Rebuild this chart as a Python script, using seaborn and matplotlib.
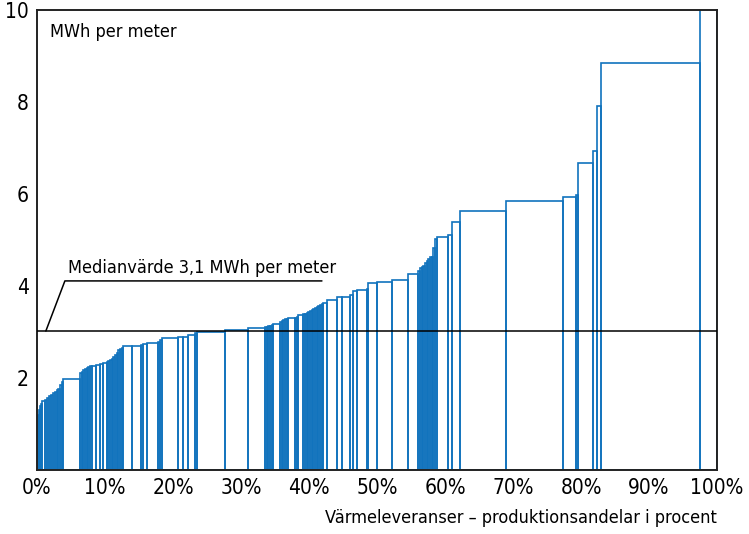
import numpy as np
import pandas as pd
import matplotlib
matplotlib.use("Agg")
from matplotlib import pyplot as plt
import seaborn as sns

# Production share (%) of each supplier, sorted by MWh per meter
shares = [0.15, 0.15, 0.15, 0.17, 0.17, 0.33, 0.32, 0.30, 0.33, 0.30, 0.29,
          0.25, 0.24, 0.24, 0.25, 0.24, 2.45, 0.25, 0.25, 0.24, 0.24, 0.24,
          0.25, 0.25, 0.60, 0.62, 0.50, 0.49, 0.25, 0.24, 0.25, 0.24, 0.24,
          0.25, 0.24, 0.25, 0.24, 0.24, 1.24, 1.36, 0.34, 0.50, 1.71, 0.25,
          0.25, 2.44, 0.73, 0.74, 0.99, 0.25, 4.16, 3.42, 2.46, 0.244, 0.244,
          0.244, 0.244, 0.244, 0.99, 0.25, 0.25, 0.24, 0.24, 0.24, 0.98,
          0.25, 0.24, 0.73, 0.248, 0.248, 0.248, 0.248, 0.248, 0.24, 0.24,
          0.25, 0.25, 0.24, 0.24, 0.24, 0.50, 1.47, 0.74, 1.22, 0.48, 0.50,
          1.48, 0.23, 1.24, 2.20, 2.44, 1.47, 0.25, 0.25, 0.25, 0.24, 0.24,
          0.24, 0.25, 0.25, 0.24, 0.25, 0.25, 1.71, 0.50, 1.22, 6.80, 8.30,
          1.91, 0.38, 2.21, 0.50, 0.68, 14.47, 2.54]
mwh = [1.10, 1.20, 1.30, 1.38, 1.44, 1.50, 1.52, 1.56, 1.60, 1.63, 1.67,
       1.70, 1.74, 1.77, 1.85, 1.92, 1.98, 2.10, 2.13, 2.17, 2.19, 2.21,
       2.24, 2.26, 2.27, 2.28, 2.30, 2.32, 2.34, 2.36, 2.39, 2.42, 2.45,
       2.49, 2.55, 2.60, 2.63, 2.66, 2.69, 2.70, 2.71, 2.73, 2.75, 2.79,
       2.82, 2.86, 2.88, 2.90, 2.93, 2.98, 3.00, 3.04, 3.08, 3.10, 3.11,
       3.12, 3.13, 3.15, 3.17, 3.22, 3.24, 3.26, 3.28, 3.29, 3.30,
       3.31, 3.33, 3.37, 3.38, 3.40, 3.42, 3.44, 3.46, 3.48, 3.51,
       3.53, 3.55, 3.57, 3.59, 3.61, 3.64, 3.70, 3.76, 3.77, 3.80, 3.88,
       3.91, 3.93, 4.06, 4.09, 4.12, 4.27, 4.33, 4.38, 4.41, 4.44, 4.50,
       4.55, 4.58, 4.62, 4.64, 4.83, 5.02, 5.07, 5.10, 5.40, 5.63, 5.85,
       5.94, 5.98, 6.68, 6.94, 7.91, 8.84, 11.0]
median_value = 3.02
median_label = "Medianvärde 3,1 MWh per meter"
x_ticks = [0, 10, 20, 30, 40, 50, 60, 70, 80, 90, 100]
x_ticklabels = ["0%", "10%", "20%", "30%", "40%", "50%", "60%", "70%", "80%", "90%", "100%"]
y_ticks = [2, 4, 6, 8, 10]

sns.set_theme(style="white")
plt.rcParams['font.family'] = ['DejaVu Sans']
plt.rcParams['font.stretch'] = 'condensed'

blue = "#1173bd"

edges = np.concatenate([[0], np.cumsum(shares)])
edges = edges / edges[-1] * 100
df = pd.DataFrame({"center": (edges[:-1] + edges[1:]) / 2, "mwh": mwh})

fig = plt.figure(figsize=(7.49, 5.34), dpi=100)
ax = fig.add_axes([0.0494, 0.1199, 0.9079, 0.8614])

sns.histplot(data=df, x="center", weights="mwh", bins=list(edges), stat="count",
             fill=False, color=blue, linewidth=1.2, element="bars", ax=ax)

ax.axhline(median_value, color="black", linewidth=1.1, zorder=5)
# median label with leader
ax.plot([1.3, 4.1, 41.9], [median_value, 4.11, 4.11], color="black", linewidth=1.1)
ax.text(4.6, 4.2, median_label, fontsize=13, va="bottom", ha="left", color="black")
ax.text(1.9, 9.52, "MWh per meter", fontsize=13, va="center", ha="left", color="black")

ax.set_xlim(0, 100)
ax.set_ylim(0, 10)
ax.set_xticks(x_ticks)
ax.set_xticklabels(x_ticklabels, fontsize=15, color="black")
ax.set_yticks(y_ticks)
ax.set_yticklabels([str(t) for t in y_ticks], fontsize=15, color="black")
ax.tick_params(length=0, pad=6)
ax.set_ylabel("")
ax.set_xlabel("Värmeleveranser – produktionsandelar i procent", fontsize=13, color="black")
ax.xaxis.set_label_coords(1.0, -0.085)
ax.xaxis.label.set_ha("right")
for s in ax.spines.values():
    s.set_color("#222222")
    s.set_linewidth(1.4)
    s.set_visible(True)

fig.savefig("out.png", dpi=100)
